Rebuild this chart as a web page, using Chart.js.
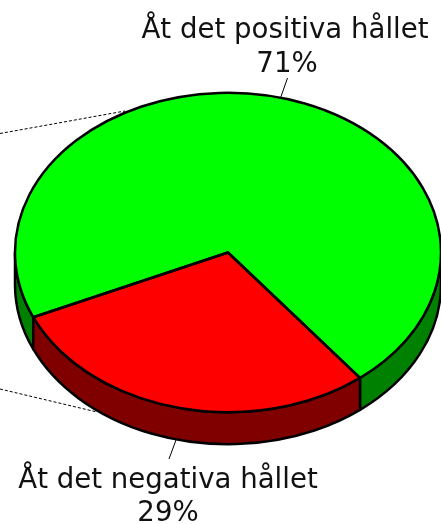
<!DOCTYPE html>
<html>
<head>
<meta charset="utf-8">
<script src="https://cdn.jsdelivr.net/npm/chart.js@4"></script>
<style>
  html, body { margin: 0; padding: 0; background: #fff; }
  #wrap { width: 441px; height: 524px; }
</style>
</head>
<body>
<div id="wrap"><canvas id="chart"></canvas></div>
<script>
const categories = ['Åt det positiva hållet', 'Åt det negativa hållet']
const values = [71, 29]
const topColors = ['rgb(0, 255, 0)', 'rgb(255, 0, 0)']
const sideColors = ['rgb(0, 128, 0)', 'rgb(128, 0, 0)']

const squash = 0.75
const depth = 32
const edgeWidth = 2.5
const labelFont = '27.6px "DejaVu Sans"'

function deg(a) {
  return a * Math.PI / 180
}

// parts of an arc that face the viewer (lower half of the ellipse)
function frontParts(start, end) {
  const parts = []
  for (let k = -2; k <= 2; k++) {
    const from = Math.max(start, k * 2 * Math.PI)
    const to = Math.min(end, k * 2 * Math.PI + Math.PI)
    if (to > from) parts.push([from, to])
  }
  return parts
}

function drawSide(ctx, arc, color) {
  const ry = arc.outerRadius * squash
  for (const [from, to] of frontParts(arc.startAngle, arc.endAngle)) {
    ctx.beginPath()
    ctx.ellipse(arc.x, arc.y, arc.outerRadius, ry, 0, from, to)
    ctx.ellipse(arc.x, arc.y + depth, arc.outerRadius, ry, 0, to, from, true)
    ctx.closePath()
    ctx.fillStyle = color
    ctx.fill()
    ctx.lineWidth = edgeWidth
    ctx.strokeStyle = '#000'
    ctx.lineJoin = 'round'
    ctx.stroke()
  }
}

const pie3d = {
  id: 'pie3d',
  beforeDatasetsDraw(chart) {
    const ctx = chart.ctx
    const arcs = chart.getDatasetMeta(0).data
    arcs.forEach((arc, i) => drawSide(ctx, arc, sideColors[i]))

    // squash the round pie the library draws into the top ellipse
    const { x, y } = arcs[0]
    ctx.save()
    ctx.translate(x, y)
    ctx.scale(1, squash)
    ctx.translate(-x, -y)
  },
  afterDatasetsDraw(chart) {
    const ctx = chart.ctx
    ctx.restore()

    const arcs = chart.getDatasetMeta(0).data
    arcs.forEach(arc => {
      ctx.beginPath()
      ctx.moveTo(arc.x, arc.y)
      ctx.ellipse(arc.x, arc.y, arc.outerRadius, arc.outerRadius * squash, 0, arc.startAngle, arc.endAngle)
      ctx.closePath()
      ctx.lineWidth = edgeWidth
      ctx.strokeStyle = '#000'
      ctx.lineJoin = 'round'
      ctx.stroke()
    })

    // leader lines
    ctx.save()
    ctx.lineWidth = 1
    ctx.strokeStyle = '#000'
    ctx.beginPath()
    ctx.moveTo(287.5, 78)
    ctx.lineTo(280.5, 98)
    ctx.moveTo(176, 440)
    ctx.lineTo(169, 459)
    ctx.stroke()
    ctx.setLineDash([3, 2])
    ctx.beginPath()
    ctx.moveTo(0, 133.5)
    ctx.lineTo(125, 111)
    ctx.moveTo(0, 389)
    ctx.lineTo(97, 412)
    ctx.stroke()
    ctx.restore()

    // labels
    ctx.save()
    ctx.font = labelFont
    ctx.fillStyle = '#111'
    ctx.textAlign = 'center'
    ctx.textBaseline = 'alphabetic'
    ctx.fillText(categories[0], 285, 38)
    ctx.fillText(values[0] + '%', 287, 72)
    ctx.fillText(categories[1], 168, 488)
    ctx.fillText(values[1] + '%', 168, 521)
    ctx.restore()
  }
}

new Chart(document.getElementById('chart'), {
  type: 'pie',
  data: {
    labels: categories,
    datasets: [{
      data: values,
      backgroundColor: topColors,
      borderWidth: 0
    }]
  },
  options: {
    responsive: true,
    maintainAspectRatio: false,
    animation: false,
    rotation: 246.1,
    layout: {
      padding: { left: 15, right: 0, top: 39.5, bottom: 58.5 }
    },
    plugins: {
      legend: { display: false },
      tooltip: { enabled: false }
    }
  },
  plugins: [pie3d]
})
</script>
</body>
</html>
